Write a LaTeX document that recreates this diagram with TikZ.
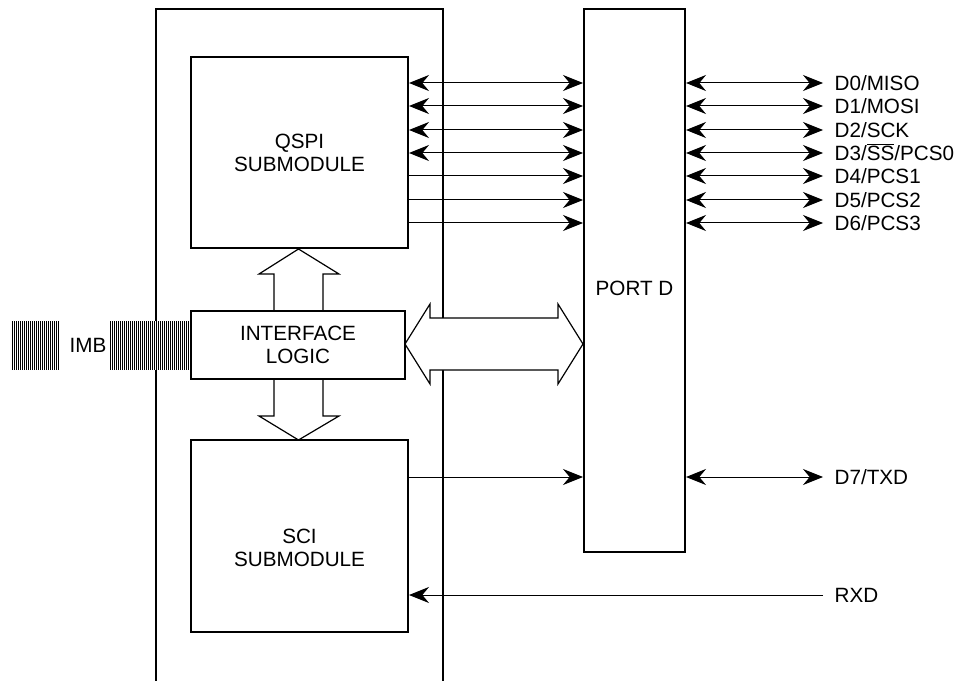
\documentclass[tikz,border=0pt]{standalone}
\usepackage{fontspec}
\setmainfont{Liberation Sans}
\usetikzlibrary{arrows.meta,positioning}

\begin{document}
\begin{tikzpicture}[x=0.75pt,y=-0.75pt,
  blk/.style={rectangle,draw,line width=1.5pt,inner sep=0pt,align=center,
              font=\fontsize{15.5}{17.25}\selectfont},
  txt/.style={inner sep=0pt,align=center,font=\fontsize{15.5}{17.25}\selectfont},
  pin/.style={anchor=west,inner xsep=8.5pt,inner ysep=0pt,text height=11.2pt,
              text depth=0pt,font=\fontsize{15.5}{17.25}\selectfont},
  tip/.tip={Stealth[length=15pt,width=12pt,inset=5pt]},
  bi/.style={tip-tip,line width=0.75pt},
  uni/.style={-tip,line width=0.75pt},
  fat/.style={line width=0.9pt,line join=miter},
  hatch/.style={line width=0.55pt}
]
  \useasboundingbox (0,0) rectangle (964,681);

  % ---------------- module outline ----------------
  \draw[line width=1.5pt] (156,681) -- (156,9) -- (443,9) -- (443,681);

  % ---------------- IMB bus ----------------
  \fill[white] (110,321) rectangle (190,370);
  \foreach \x in {12,14,...,58} \draw[hatch] (\x,321) -- (\x,370);
  \foreach \x in {110,112,...,190} \draw[hatch] (\x,321) -- (\x,370);
  \node[txt] (imb) at (88,345) {IMB};

  % ---------------- blocks ----------------
  \node[blk,minimum width=162.75pt,minimum height=143.25pt] (qspi) at (299.5,152.5)
    {QSPI\\SUBMODULE};
  \node[blk,fill=white,minimum width=160.5pt,minimum height=51pt] (ifl) at (298,345)
    {INTERFACE\\LOGIC};
  \node[blk,minimum width=162.75pt,minimum height=144pt] (sci) at (299.5,536) {};
  \node[txt] (scilbl) at (299.5,548) {SCI\\SUBMODULE};
  \node[blk,minimum width=75.75pt,minimum height=407.25pt] (portd) at (634.5,280.5) {};
  \node[txt] (portlbl) at (634.5,288) {PORT D};

  % ---------------- wide buses ----------------
  \draw[fat] (274,311) -- (274,274) -- (259,274) -- (298.5,249) -- (339,274)
    -- (323,274) -- (323,311);
  \draw[fat] (274,379) -- (274,416) -- (259,416) -- (298.5,440) -- (339,416)
    -- (323,416) -- (323,379);
  \draw[fat,fill=white] (405,344) -- (430,304) -- (430,318) -- (558,318) -- (558,304)
    -- (583,344) -- (558,384) -- (558,370) -- (430,370) -- (430,384) -- cycle;

  % ---------------- pins ----------------
  \node[pin] (d0) at (823,83)  {D0/MISO};
  \node[pin] (d1) at (823,106) {D1/MOSI};
  \node[pin] (d2) at (823,130) {D2/SCK};
  \node[pin] (d3) at (823,153) {D3/\(\overline{\mbox{SS}}\)/PCS0};
  \node[pin] (d4) at (823,176) {D4/PCS1};
  \node[pin] (d5) at (823,200) {D5/PCS2};
  \node[pin] (d6) at (823,223) {D6/PCS3};
  \node[pin] (d7) at (823,477) {D7/TXD};
  \node[pin] (rxd) at (823,595) {RXD};

  \draw[bi] (qspi.east |- d0.west) -- (portd.west |- d0.west);
  \draw[bi] (qspi.east |- d1.west) -- (portd.west |- d1.west);
  \draw[bi] (qspi.east |- d2.west) -- (portd.west |- d2.west);
  \draw[bi] (qspi.east |- d3.west) -- (portd.west |- d3.west);
  \draw[uni] (qspi.east |- d4.west) -- (portd.west |- d4.west);
  \draw[uni] (qspi.east |- d5.west) -- (portd.west |- d5.west);
  \draw[uni] (qspi.east |- d6.west) -- (portd.west |- d6.west);
  \draw[uni] (sci.east |- d7.west) -- (portd.west |- d7.west);

  \draw[bi] (portd.east |- d0.west) -- (d0.west); \draw[bi] (portd.east |- d1.west) -- (d1.west);
  \draw[bi] (portd.east |- d2.west) -- (d2.west); \draw[bi] (portd.east |- d3.west) -- (d3.west);
  \draw[bi] (portd.east |- d4.west) -- (d4.west); \draw[bi] (portd.east |- d5.west) -- (d5.west);
  \draw[bi] (portd.east |- d6.west) -- (d6.west); \draw[bi] (portd.east |- d7.west) -- (d7.west);
  \draw[uni] (rxd.west) -- (sci.east |- rxd.west);
\end{tikzpicture}
\end{document}
